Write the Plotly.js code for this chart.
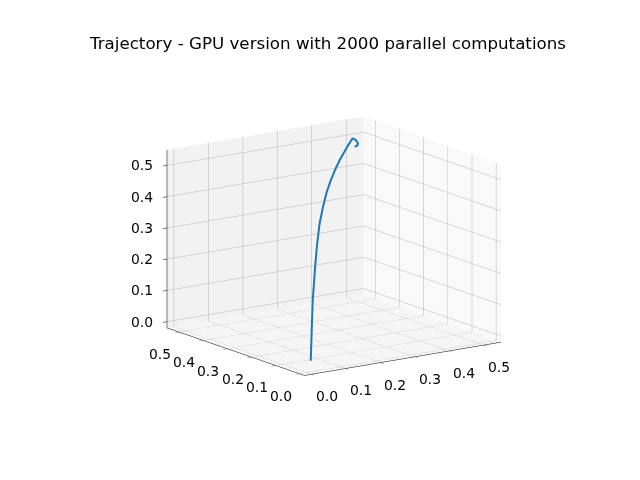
<!DOCTYPE html>
<html>
<head>
<meta charset="utf-8">
<script src="https://cdn.plot.ly/plotly-3.0.1.min.js"></script>
<style>html,body{margin:0;padding:0;background:#fff;}#chart{width:640px;height:480px;}</style>
</head>
<body>
<div id="chart"></div>
<script>
// Trajectory samples
const trajX = [0.040, 0.045, 0.050, 0.058, 0.070, 0.082, 0.100, 0.125, 0.160, 0.195, 0.235, 0.280, 0.320, 0.360, 0.400, 0.430, 0.445, 0.452, 0.456, 0.452, 0.446];
const trajY = [0.040, 0.045, 0.050, 0.058, 0.070, 0.082, 0.100, 0.125, 0.160, 0.195, 0.235, 0.280, 0.320, 0.360, 0.400, 0.430, 0.445, 0.442, 0.438, 0.436, 0.438];
const trajZ = [0.000, 0.050, 0.100, 0.180, 0.230, 0.280, 0.340, 0.400, 0.440, 0.470, 0.490, 0.505, 0.515, 0.520, 0.525, 0.527, 0.528, 0.522, 0.512, 0.505, 0.503];
const tickVals = [0.0, 0.1, 0.2, 0.3, 0.4, 0.5];
const tickText = ["0.0", "0.1", "0.2", "0.3", "0.4", "0.5"];
const titleText = "Trajectory - GPU version with 2000 parallel computations";
const lo = -0.02, hi = 0.55;

function axis(bg) {
  return {
    title: {text: ""},
    range: [lo, hi],
    tickvals: tickVals,
    showticklabels: false,
    showgrid: true, gridcolor: "#b4b4b4", gridwidth: 1,
    showline: true, linecolor: "#000", linewidth: 1,
    ticks: "outside", ticklen: 5, tickcolor: "#000",
    zeroline: false, showspikes: false,
    showbackground: true, backgroundcolor: bg
  };
}

const tf = {family: "DejaVu Sans", size: 13.9, color: "#000"};
const ann = [];
tickVals.forEach((v, i) => {
  ann.push({x: v, y: lo, z: lo, text: tickText[i], showarrow: false, font: tf, xshift: 15, yshift: -22});
  ann.push({x: lo, y: v, z: lo, text: tickText[i], showarrow: false, font: tf, xshift: -19, yshift: -22});
  ann.push({x: lo, y: hi, z: v, text: tickText[i], showarrow: false, font: tf, xanchor: "right", xshift: -12, yshift: 0});
});

const trace = {
  type: "scatter3d", mode: "lines",
  x: trajX, y: trajY, z: trajZ,
  line: {color: "#1f77b4", width: 4},
  hoverinfo: "skip", showlegend: false
};

const el = 14 * Math.PI / 180, az = -125 * Math.PI / 180, r = 1.98;
const layout = {
  width: 640, height: 480,
  margin: {l: 0, r: 0, t: 0, b: 0},
  paper_bgcolor: "#fff",
  font: {family: "DejaVu Sans", color: "#000"},
  title: {text: titleText, x: 0.5125, xanchor: "center", y: 0.91, yanchor: "middle",
          font: {family: "DejaVu Sans", size: 16.7, color: "#000"}},
  scene: {
    domain: {x: [0.044, 1], y: [0.0375, 0.9375]},
    aspectmode: "manual", aspectratio: {x: 1.11, y: 1.11, z: 0.85},
    xaxis: axis("#f9f9f9"),
    yaxis: axis("#f2f2f2"),
    zaxis: axis("#f5f5f5"),
    annotations: ann,
    camera: {eye: {x: r*Math.cos(el)*Math.cos(az), y: r*Math.cos(el)*Math.sin(az), z: r*Math.sin(el)},
             center: {x: 0, y: 0, z: 0}, up: {x: 0, y: 0, z: 1},
             projection: {type: "orthographic"}}
  }
};
Plotly.newPlot("chart", [trace], layout, {displayModeBar: false});
</script>
</body>
</html>
